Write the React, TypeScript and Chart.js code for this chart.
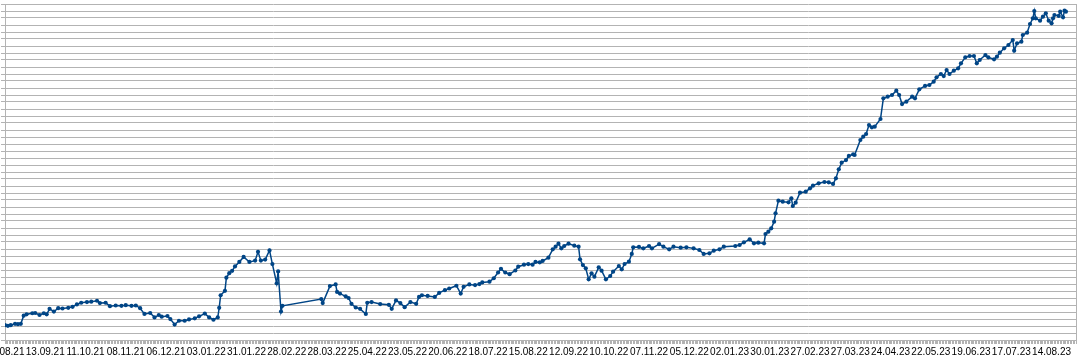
import React, { useEffect, useRef } from "react";
import { Chart, registerables } from "chart.js";

Chart.register(...registerables);

// Day 0 of the time axis is 16.08.2021; labels every 28 days
const START_DATE_UTC = Date.UTC(2021, 7, 16);
const LABEL_STEP_DAYS = 28;
const X_MAX_DAYS = 745;
const Y_MAX = 48;

// Trading days (offset in days from 16.08.2021)
const tradeDays = [
  0, 2, 4, 7, 9, 11, 13, 15, 19, 21,
  24, 27, 29, 31, 34, 37, 40, 44, 47, 50,
  53, 57, 60, 64, 66, 70, 73, 77, 81, 84,
  88, 91, 94, 97, 101, 104, 107, 109, 113, 115,
  118, 121, 125, 128, 132, 135, 139, 142, 145, 148,
  149, 150, 153, 154, 156, 158, 160, 163, 166, 170,
  174, 176, 178, 181, 184, 186, 189, 190, 192, 193,
  220, 221, 226, 230, 231, 233, 237, 239, 241, 244,
  247, 251, 252, 255, 261, 267, 269, 272, 275, 278,
  282, 286, 288, 290, 294, 299, 302, 306, 309, 314,
  317, 319, 323, 327, 330, 332, 337, 340, 343, 345,
  348, 351, 355, 357, 361, 364, 367, 369,
  372, 374, 378, 381, 383, 385, 387, 389, 392, 396,
  399, 400, 402, 404, 406, 408, 410, 413, 415, 418,
  421, 423, 427, 429, 431, 434, 436, 437, 441, 444,
  448, 450, 455, 458, 462, 465, 470, 474, 479, 483,
  486, 490, 493, 497, 500, 508, 511, 514, 518, 521,
  524, 528, 529, 531, 533, 535, 536, 538, 541, 545,
  547, 548, 550, 553, 557, 560, 562, 566, 570, 573,
  576, 578, 580, 582, 585, 587, 590, 591, 595, 597,
  599, 601, 603, 605, 609, 611, 614, 617, 620, 622,
  624, 627, 631, 633, 636, 640, 643, 646, 648, 651,
  653, 655, 657, 660, 663, 665, 668, 671, 674, 676,
  678, 682, 684, 688, 690, 692, 695, 698, 701, 702,
  704, 707, 708, 711, 713, 715, 716, 717, 720, 722,
  724, 726, 728, 729, 730, 733, 734, 736, 737, 738,
];

const values = [
  2.12, 2.02, 2.12, 2.31, 2.26, 2.31, 3.48, 3.67, 3.82, 3.86,
  3.57, 3.82, 3.67, 4.45, 4.06, 4.54, 4.5, 4.59, 4.74, 5.08,
  5.32, 5.42, 5.47, 5.61, 5.27, 5.32, 4.83, 4.93, 4.88, 4.98,
  4.88, 4.93, 4.54, 3.72, 3.86, 3.23, 3.57, 3.33, 3.43, 2.99,
  2.21, 2.75, 2.75, 2.94, 3.09, 3.38, 3.77, 3.23, 2.89, 3.23,
  4.59, 6.39, 7.02, 8.91, 9.54, 9.88, 10.51, 11.15, 11.87, 11.15,
  11.34, 12.6, 11.34, 11.49, 12.8, 10.85, 8.09, 9.79, 4.06, 4.88,
  5.85, 5.27, 7.7, 7.94, 6.87, 6.63, 6.24, 6.0, 5.17, 4.64,
  4.45, 3.72, 5.32, 5.42, 5.13, 5.03, 4.45, 5.66, 5.27, 4.69,
  5.42, 5.17, 6.15, 6.39, 6.29, 6.15, 6.73, 7.12, 7.36, 7.75,
  6.63, 7.6, 7.94, 7.84, 7.99, 8.23, 8.33, 8.82, 9.64, 10.17,
  9.64, 9.4, 9.93, 10.47, 10.76, 10.85, 10.76, 11.15,
  11.09, 11.29, 11.76, 12.95, 13.33, 13.76, 13.09, 13.43, 13.76, 13.48,
  13.33, 11.52, 10.71, 10.24, 8.67, 9.52, 9.05, 10.38, 9.9, 8.67,
  9.14, 9.76, 10.57, 10.09, 10.86, 11.19, 12.29, 13.24, 13.29, 13.09,
  13.43, 13.09, 13.71, 13.33, 12.95, 13.33, 13.19, 13.24, 13.09, 12.86,
  12.29, 12.38, 12.76, 12.95, 13.33, 13.43, 13.57, 13.95, 14.38, 13.81,
  13.9, 13.81, 15.14, 15.48, 15.95, 16.9, 18.1, 19.9, 19.76, 19.67,
  20.24, 19.14, 19.62, 21.05, 21.19, 21.67, 22.05, 22.38, 22.57, 22.52,
  22.29, 23.1, 24.38, 25.33, 25.71, 26.29, 26.52, 26.43, 28.57, 29.05,
  29.43, 30.71, 30.38, 30.48, 31.57, 34.52, 34.76, 35.0, 35.62, 35.0,
  33.71, 34.05, 34.76, 34.52, 35.81, 36.29, 36.43, 36.9, 37.52, 38.0,
  37.71, 38.57, 38.0, 38.48, 38.81, 39.52, 40.38, 40.57, 40.57, 39.52,
  40.0, 40.71, 40.38, 40.1, 40.48, 41.05, 41.67, 42.14, 42.86, 41.33,
  42.38, 42.62, 43.57, 43.9, 45.14, 45.95, 47.0, 45.95, 45.62, 46.19,
  46.67, 45.62, 45.24, 45.95, 46.43, 46.29, 46.9, 46.1, 47.05, 46.9,
];

const LINE_COLOR = "#004586";
const GRID_COLOR = "#b3b3b3";

function formatDay(offset: number): string {
  const d = new Date(START_DATE_UTC + offset * 86400000);
  const dd = String(d.getUTCDate()).padStart(2, "0");
  const mm = String(d.getUTCMonth() + 1).padStart(2, "0");
  const yy = String(d.getUTCFullYear() % 100).padStart(2, "0");
  return `${dd}.${mm}.${yy}`;
}

const frameRight = {
  id: "frameRight",
  beforeDatasetsDraw(chart: any) {
    const { ctx, chartArea } = chart;
    ctx.save();
    ctx.strokeStyle = GRID_COLOR;
    ctx.lineWidth = 1;
    const x = Math.round(chartArea.right) + 0.5;
    ctx.beginPath();
    ctx.moveTo(x, chartArea.top);
    ctx.lineTo(x, chartArea.bottom);
    ctx.stroke();
    ctx.restore();
  },
};

export default function App() {
  const canvasRef = useRef<HTMLCanvasElement | null>(null);

  useEffect(() => {
    if (!canvasRef.current) return;
    const chart = new Chart(canvasRef.current, {
      type: "line",
      data: {
        datasets: [
          {
            data: tradeDays.map((d, i) => ({ x: d, y: values[i] })),
            borderColor: LINE_COLOR,
            backgroundColor: LINE_COLOR,
            borderWidth: 1.5,
            pointRadius: 2.1,
            pointBorderWidth: 0,
            pointBackgroundColor: LINE_COLOR,
            tension: 0,
          },
        ],
      },
      options: {
        responsive: false,
        animation: false,
        layout: { padding: { top: 4, right: 4, bottom: 0, left: 0 } },
        plugins: {
          legend: { display: false },
          tooltip: { enabled: false },
        },
        scales: {
          x: {
            type: "linear",
            min: 0,
            max: X_MAX_DAYS,
            afterFit: (axis: any) => {
              axis.paddingLeft = 0;
              axis.paddingRight = 0;
              axis.height = 20;
            },
            grid: {
              drawOnChartArea: false,
              drawTicks: true,
              tickLength: 4,
              color: GRID_COLOR,
            },
            border: { display: true, color: GRID_COLOR },
            ticks: {
              stepSize: 1,
              autoSkip: false,
              maxRotation: 0,
              minRotation: 0,
              padding: 2,
              color: "#000000",
              font: { size: 10, family: "'Liberation Sans', Arial, sans-serif" },
              callback: (v: any) =>
                Number(v) % LABEL_STEP_DAYS === 0 ? formatDay(Number(v)) : "",
            },
          },
          y: {
            type: "linear",
            min: 0,
            max: Y_MAX,
            afterFit: (axis: any) => {
              axis.width = 5;
            },
            grid: { color: GRID_COLOR, tickLength: 4, drawTicks: true },
            border: { display: true, color: GRID_COLOR },
            ticks: { stepSize: 1, display: false },
          },
        },
      },
      plugins: [frameRight],
    });
    return () => chart.destroy();
  }, []);

  return (
    <div style={{ position: "absolute", left: 0, top: 0, width: 1080, height: 360, background: "#ffffff" }}>
      <canvas ref={canvasRef} width={1080} height={360} style={{ display: "block" }} />
    </div>
  );
}
